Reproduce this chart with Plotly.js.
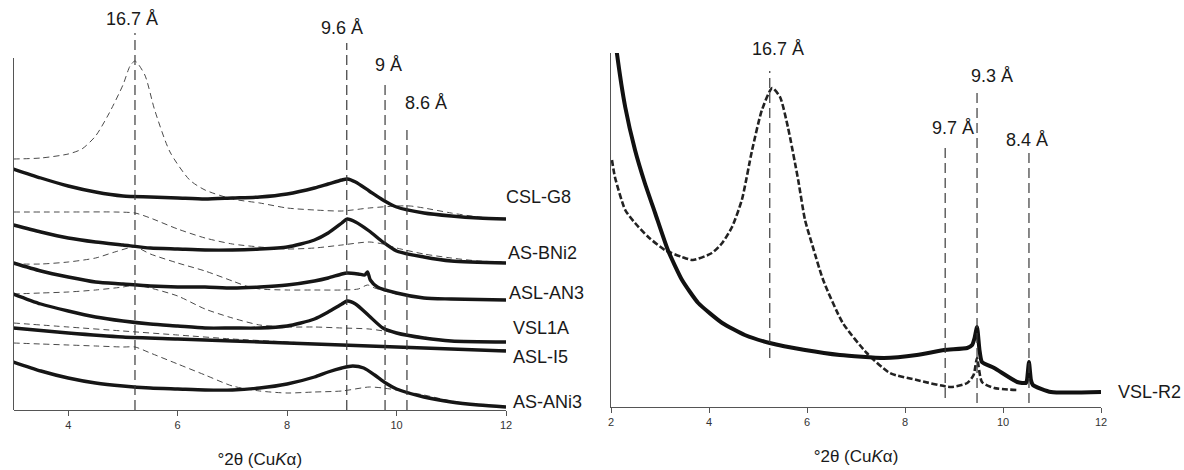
<!DOCTYPE html>
<html>
<head>
<meta charset="utf-8">
<script src="https://cdn.plot.ly/plotly-3.0.1.min.js"></script>
<style>html,body{margin:0;padding:0;background:#fff;}#chart{width:1184px;height:470px;}</style>
</head>
<body>
<div id="chart"></div>
<script>
// ---------- LEFT PANEL DATA (x = °2θ, y = relative intensity, offset stacked) ----------
const cslG8_dash_x = [3.0, 3.5, 4.0, 4.25, 4.5, 4.75, 5.0, 5.13, 5.22, 5.4, 5.58, 5.86, 6.22, 6.5, 7.0, 7.5, 8.0, 8.5, 9.0, 9.5, 10.0, 10.25, 10.5, 11.0, 11.5, 12.0];
const cslG8_dash_y = [251, 252, 256, 261, 274, 297, 325, 344, 349, 335, 300, 258, 230, 220, 211, 207, 202, 200, 199, 202, 204, 204, 202, 197, 193, 191];
const cslG8_x = [3.0, 3.5, 4.0, 4.5, 5.0, 5.5, 6.0, 6.5, 7.0, 7.5, 8.0, 8.5, 8.75, 9.0, 9.1, 9.25, 9.5, 9.75, 10.0, 10.5, 11.0, 11.5, 12.0];
const cslG8_y = [241, 232, 224, 218, 214, 213, 212, 211, 212, 213, 216, 222, 226, 230, 231, 228, 219, 210, 203, 197, 194, 192, 191];

const asBNi2_dash_x = [3.0, 4.0, 4.85, 5.22, 5.5, 6.0, 6.5, 7.0, 7.5, 8.0, 8.5, 9.0, 9.5, 9.75, 10.0, 10.5, 11.0, 11.5, 12.0];
const asBNi2_dash_y = [198, 198, 198, 197, 192, 181, 172, 166, 163, 161, 162, 165, 168, 166, 162, 156, 152, 149, 148];
const asBNi2_x = [3.0, 3.5, 4.0, 4.5, 5.0, 5.5, 6.0, 6.5, 7.0, 7.5, 8.0, 8.25, 8.5, 8.75, 9.0, 9.1, 9.25, 9.5, 9.75, 10.0, 10.5, 11.0, 12.0];
const asBNi2_y = [185, 178, 172, 168, 165, 162, 161, 160, 160, 161, 163, 166, 170, 177, 187, 191, 188, 179, 168, 159, 153, 149, 147];

const aslAN3_dash_x = [3.0, 3.5, 4.0, 4.5, 4.85, 5.22, 5.5, 6.0, 6.5, 7.0, 7.25, 7.5, 8.0, 8.5, 9.0, 9.3, 9.47, 9.6, 10.0, 10.5, 11.0, 12.0];
const aslAN3_dash_y = [146, 146, 148, 152, 158, 163, 156, 147, 139, 129, 124, 121, 120, 120, 120, 121, 125, 122, 116, 112, 111, 110];
const aslAN3_x = [3.0, 3.5, 4.0, 4.5, 5.0, 5.5, 6.0, 6.5, 7.0, 7.5, 8.0, 8.5, 8.75, 9.0, 9.1, 9.3, 9.42, 9.47, 9.52, 9.65, 10.0, 10.5, 11.0, 12.0];
const aslAN3_y = [147, 139, 133, 128, 126, 124, 123, 123, 122, 123, 125, 129, 132, 136, 137, 136, 135, 138, 130, 123, 117, 112, 111, 110];

const vsl1A_dash_x = [3.0, 3.5, 4.0, 4.5, 5.0, 5.22, 5.5, 6.0, 6.5, 7.0, 7.5, 8.0, 8.5, 9.0, 9.5, 10.0, 10.5, 11.0, 12.0];
const vsl1A_dash_y = [116, 117, 118, 120, 123, 125, 122, 114, 101, 92, 85, 83, 83, 82, 81, 77, 73, 69, 68];
const vsl1A_x = [3.0, 3.5, 4.0, 4.5, 5.0, 5.5, 6.0, 6.5, 7.0, 7.5, 8.0, 8.25, 8.5, 8.75, 9.0, 9.1, 9.25, 9.5, 9.75, 10.0, 10.5, 11.0, 12.0];
const vsl1A_y = [116, 106, 99, 93, 89, 86, 84, 82, 82, 82, 84, 87, 91, 98, 106, 109, 106, 94, 82, 77, 72, 69, 68];

const aslI5_dash_x = [3.0, 4.0, 5.0, 6.0, 7.0, 8.0, 9.0, 10.0, 11.0, 12.0];
const aslI5_dash_y = [87, 83, 79, 75, 71, 68, 65, 63, 61, 60];
const aslI5_x = [3.0, 4.0, 5.0, 6.0, 7.0, 8.0, 9.0, 10.0, 11.0, 12.0];
const aslI5_y = [82, 77, 73, 71, 69, 67, 65, 63, 61, 59];

const asANi3_dash_x = [3.0, 3.5, 4.0, 4.5, 5.0, 5.22, 5.5, 6.0, 6.5, 7.0, 7.5, 8.0, 8.5, 9.0, 9.5, 9.75, 10.0, 10.5, 11.0, 11.5, 12.0];
const asANi3_dash_y = [67, 66, 65, 64, 63, 63, 57, 46, 35, 24, 19, 17, 18, 19, 23, 22, 20, 15, 9, 5, 3];
const asANi3_x = [3.0, 3.5, 4.0, 4.5, 5.0, 5.5, 6.0, 6.5, 7.0, 7.5, 8.0, 8.5, 8.75, 9.0, 9.2, 9.4, 9.6, 9.8, 10.0, 10.5, 11.0, 11.5, 12.0];
const asANi3_y = [48, 39, 32, 27, 24, 22, 21, 20, 20, 22, 26, 33, 38, 42, 44, 42, 35, 27, 21, 13, 8, 5, 3];

const leftSamples = ['CSL-G8', 'AS-BNi2', 'ASL-AN3', 'VSL1A', 'ASL-I5', 'AS-ANi3'];
const leftSampleLabelX = [11.96, 12.0, 12.01, 12.1, 12.1, 12.1];
const leftSampleLabelY = [213, 157, 117, 82, 53, 8];

const leftRefText = ['16.7 Å', '9.6 Å', '9 Å', '8.6 Å'];
const leftRefX = [5.22, 9.09, 9.79, 10.19];
const leftRefTop = [377, 367, 327, 285];
const leftRefLabelX = [5.16, 9.0, 9.86, 10.53];
const leftRefLabelY = [391, 382, 345, 307];

// ---------- RIGHT PANEL DATA ----------
const vslR2_x = [2.06, 2.12, 2.29, 2.49, 2.69, 2.90, 3.16, 3.45, 3.78, 4.27, 4.73, 5.24, 5.96, 6.67, 7.57, 8.24, 8.80, 9.27, 9.37, 9.42, 9.47, 9.52, 9.57, 9.82, 10.29, 10.47, 10.49, 10.53, 10.57, 10.61, 10.98, 12.0];
const vslR2_y = [380, 354, 300, 257, 224, 194, 157, 127, 104, 84, 72, 64, 57, 52, 49, 52, 57, 59, 62, 69, 80, 57, 45, 39, 25, 24, 27, 45, 27, 22, 15, 15];
const vslR2_dash_x = [2.02, 2.08, 2.29, 2.49, 2.76, 3.10, 3.45, 3.67, 4.06, 4.27, 4.47, 4.67, 4.88, 5.08, 5.29, 5.45, 5.61, 5.82, 5.96, 6.12, 6.33, 6.73, 7.22, 7.69, 8.24, 8.94, 9.27, 9.40, 9.47, 9.57, 9.82, 10.29];
const vslR2_dash_y = [247, 230, 197, 184, 170, 157, 150, 147, 154, 164, 180, 207, 257, 297, 319, 310, 280, 227, 187, 160, 127, 84, 54, 34, 27, 20, 24, 32, 49, 25, 19, 17];

const rightSample = 'VSL-R2';
const rightSampleLabelX = 12.31;
const rightSampleLabelY = 15;

const rightRefText = ['16.7 Å', '9.7 Å', '9.3 Å', '8.4 Å'];
const rightRefX = [5.24, 8.82, 9.47, 10.53];
const rightRefBottom = [49, 9, 4, 4];
const rightRefTop = [336, 260, 314, 257];
const rightRefLabelX = [5.41, 8.98, 9.78, 10.49];
const rightRefLabelY = [358, 279, 331, 267];

const leftTicks = [4, 6, 8, 10, 12];
const rightTicks = [2, 4, 6, 8, 10, 12];
const axisTitle = '°2θ (Cu<i>K</i>α)';

// ---------- STYLE ----------
const FONT = 'Liberation Sans, Arial, sans-serif';
const LEFT_XR = [3, 12], LEFT_YR = [0, 377], LEFT_AXIS_TOP = 352;
const RIGHT_XR = [2, 12], RIGHT_YR = [0, 354];
const solidL = {color: '#161616', width: 3.4, shape: 'spline', smoothing: 0.7};
const dashL = {color: '#4a4a4a', width: 1, dash: '6px,4px', shape: 'spline', smoothing: 0.7};

// fraction of an axis' domain for a data value (used for labels outside the data range)
function frac(v, r) { return (v - r[0]) / (r[1] - r[0]); }

function tr(x, y, line, xa, ya) {
  return {type: 'scatter', mode: 'lines', x: x, y: y, line: line, xaxis: xa, yaxis: ya, hoverinfo: 'skip', showlegend: false};
}

const traces = [
  tr(cslG8_dash_x, cslG8_dash_y, dashL, 'x', 'y'),
  tr(asBNi2_dash_x, asBNi2_dash_y, dashL, 'x', 'y'),
  tr(aslAN3_dash_x, aslAN3_dash_y, dashL, 'x', 'y'),
  tr(vsl1A_dash_x, vsl1A_dash_y, dashL, 'x', 'y'),
  tr(aslI5_dash_x, aslI5_dash_y, dashL, 'x', 'y'),
  tr(asANi3_dash_x, asANi3_dash_y, dashL, 'x', 'y'),
  tr(cslG8_x, cslG8_y, solidL, 'x', 'y'),
  tr(asBNi2_x, asBNi2_y, solidL, 'x', 'y'),
  tr(aslAN3_x, aslAN3_y, solidL, 'x', 'y'),
  tr(vsl1A_x, vsl1A_y, solidL, 'x', 'y'),
  tr(aslI5_x, aslI5_y, solidL, 'x', 'y'),
  tr(asANi3_x, asANi3_y, solidL, 'x', 'y'),
  tr(vslR2_dash_x, vslR2_dash_y, {color: '#222', width: 2.6, dash: '6px,2.5px', shape: 'spline', smoothing: 0.6}, 'x2', 'y2'),
  tr(vslR2_x, vslR2_y, {color: '#111', width: 4, shape: 'spline', smoothing: 0.5}, 'x2', 'y2')
];

const refLine = {color: '#3a3a3a', width: 1.2, dash: '10px,5px'};
const shapes = [];
// left y axis line (only up to the data area)
shapes.push({type: 'line', xref: 'x domain', yref: 'y domain', x0: 0, x1: 0, y0: 0, y1: frac(LEFT_AXIS_TOP, LEFT_YR), line: {color: '#555', width: 1}});
leftRefX.forEach((x, i) => shapes.push({type: 'line', xref: 'x', yref: 'y', x0: x, x1: x, y0: 0, y1: leftRefTop[i], line: refLine}));
rightRefX.forEach((x, i) => shapes.push({type: 'line', xref: 'x2', yref: 'y2', x0: x, x1: x, y0: rightRefBottom[i], y1: rightRefTop[i], line: refLine}));

const annotations = [];
const labFont = {family: FONT, size: 18, color: '#1a1a1a'};
function lab(t, x, y, xr, yr, xa, ya, anchor) {
  return {text: t, xref: xa + ' domain', yref: ya + ' domain', x: frac(x, xr), y: frac(y, yr), showarrow: false, xanchor: anchor, yanchor: 'middle', font: labFont};
}
leftRefText.forEach((t, i) => annotations.push(lab(t, leftRefLabelX[i], leftRefLabelY[i], LEFT_XR, LEFT_YR, 'x', 'y', 'center')));
rightRefText.forEach((t, i) => annotations.push(lab(t, rightRefLabelX[i], rightRefLabelY[i], RIGHT_XR, RIGHT_YR, 'x2', 'y2', 'center')));
leftSamples.forEach((t, i) => annotations.push(lab(t, leftSampleLabelX[i], leftSampleLabelY[i], LEFT_XR, LEFT_YR, 'x', 'y', 'left')));
annotations.push(lab(rightSample, rightSampleLabelX, rightSampleLabelY, RIGHT_XR, RIGHT_YR, 'x2', 'y2', 'left'));

const xCommon = {
  showgrid: false, zeroline: false, showline: true, linecolor: '#555', linewidth: 1,
  ticks: 'outside', ticklen: 5, tickcolor: '#555', tickwidth: 1,
  tickfont: {family: FONT, size: 11, color: '#333'}, automargin: false,
  title: {text: axisTitle, font: {family: FONT, size: 17, color: '#1a1a1a'}, standoff: 22}
};
const yCommon = {showgrid: false, zeroline: false, showticklabels: false, ticks: '', automargin: false, fixedrange: true};

const layout = {
  width: 1184, height: 470,
  margin: {l: 0, r: 0, t: 0, b: 0},
  paper_bgcolor: '#fff', plot_bgcolor: 'rgba(0,0,0,0)',
  showlegend: false,
  font: {family: FONT},
  xaxis: Object.assign({}, xCommon, {domain: [13.5 / 1184, 506 / 1184], range: LEFT_XR, tickvals: leftTicks, anchor: 'y'}),
  yaxis: Object.assign({}, yCommon, {domain: [60 / 470, 437 / 470], range: LEFT_YR, showline: false, anchor: 'x'}),
  xaxis2: Object.assign({}, xCommon, {domain: [611 / 1184, 1101 / 1184], range: RIGHT_XR, tickvals: rightTicks, anchor: 'y2'}),
  yaxis2: Object.assign({}, yCommon, {domain: [63 / 470, 417 / 470], range: RIGHT_YR, showline: true, linecolor: '#555', linewidth: 1, anchor: 'x2'}),
  shapes: shapes,
  annotations: annotations
};

Plotly.newPlot('chart', traces, layout, {staticPlot: true, displayModeBar: false});
</script>
</body>
</html>
